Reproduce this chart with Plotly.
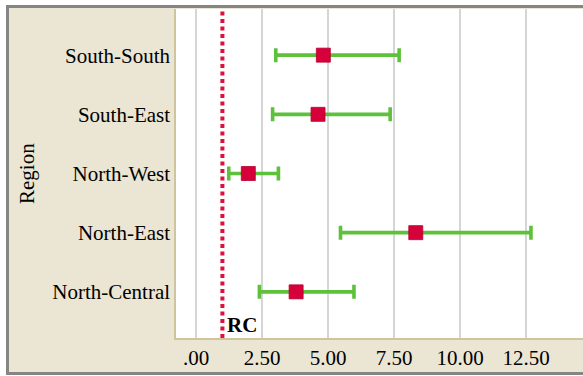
import plotly.graph_objects as go

# Odds ratios with 95% confidence intervals by region (reference category RC = 1)
regions = ["North-Central", "North-East", "North-West", "South-East", "South-South"]
estimate = [3.79, 8.32, 1.98, 4.62, 4.82]
ci_lower = [2.40, 5.47, 1.24, 2.90, 3.02]
ci_upper = [5.98, 12.68, 3.12, 7.35, 7.69]
ref_value = 1.0

tick_vals = [0, 2.5, 5, 7.5, 10, 12.5]
tick_text = [".00", "2.50", "5.00", "7.50", "10.00", "12.50"]

W, H = 583, 376
ML, MR, MT, MB = 176, 0, 9, 38
pw, ph = W - ML - MR, H - MT - MB

def px_x(p):
    return (p - ML) / pw

def px_y(p):
    return (H - MB - p) / ph

serif = "Liberation Serif, Times New Roman, serif"
beige = "#EBE5D3"
crimson = "#D6003A"
green = "#5DC13B"

err_plus = [u - e for u, e in zip(ci_upper, estimate)]
err_minus = [e - l for e, l in zip(estimate, ci_lower)]

fig = go.Figure()
fig.add_trace(go.Scatter(
    x=estimate, y=regions, mode="markers",
    marker=dict(symbol="square", size=14, color=crimson,
                line=dict(color="#B8002F", width=0.8)),
    error_x=dict(type="data", symmetric=False, array=err_plus,
                 arrayminus=err_minus, color=green, thickness=3.6, width=7),
    showlegend=False, hoverinfo="skip",
))

shapes = [
    # framed beige panel
    dict(type="rect", xref="paper", yref="paper", layer="below",
         x0=px_x(7.5), x1=px_x(W + 20), y0=px_y(373.5), y1=px_y(6.5),
         fillcolor=beige, line=dict(color="#858585", width=3)),
    # white plotting area
    dict(type="rect", xref="paper", yref="paper", layer="below",
         x0=0, x1=1, y0=0, y1=1, fillcolor="white", line=dict(width=0)),
    # reference line
    dict(type="line", xref="x", yref="paper", x0=ref_value, x1=ref_value,
         y0=0, y1=1, line=dict(color="#E0103C", width=4, dash="4px,3.5px")),
]

fig.update_layout(
    width=W, height=H,
    margin=dict(l=ML, r=MR, t=MT, b=MB, pad=0),
    paper_bgcolor="white", plot_bgcolor="rgba(0,0,0,0)",
    shapes=shapes,
    font=dict(family=serif, size=21, color="black"),
    xaxis=dict(range=[-0.757, 14.65], tickvals=tick_vals, ticktext=tick_text,
               showgrid=True, gridcolor="#D5D5D5", gridwidth=1.5,
               zeroline=False, showline=True, linecolor="#CFC49E", linewidth=1.5,
               ticks="", tickfont=dict(family=serif, size=21)),
    yaxis=dict(type="category", categoryorder="array", categoryarray=regions,
               range=[-0.78, 4.78], showgrid=False, zeroline=False,
               showline=True, linecolor="#CFC49E", linewidth=1.5, ticks="",
               tickfont=dict(family=serif, size=21)),
    annotations=[
        dict(text="RC", xref="x", yref="paper", x=ref_value, y=px_y(325),
             xanchor="left", yanchor="middle", xshift=3, showarrow=False,
             font=dict(family=serif, size=21, color="black", weight="bold")),
        dict(text="Region", xref="paper", yref="paper", x=px_x(27), y=px_y(174),
             xanchor="center", yanchor="middle", textangle=-90, showarrow=False,
             font=dict(family=serif, size=21, color="black")),
    ],
)

fig.write_html("out.html")
